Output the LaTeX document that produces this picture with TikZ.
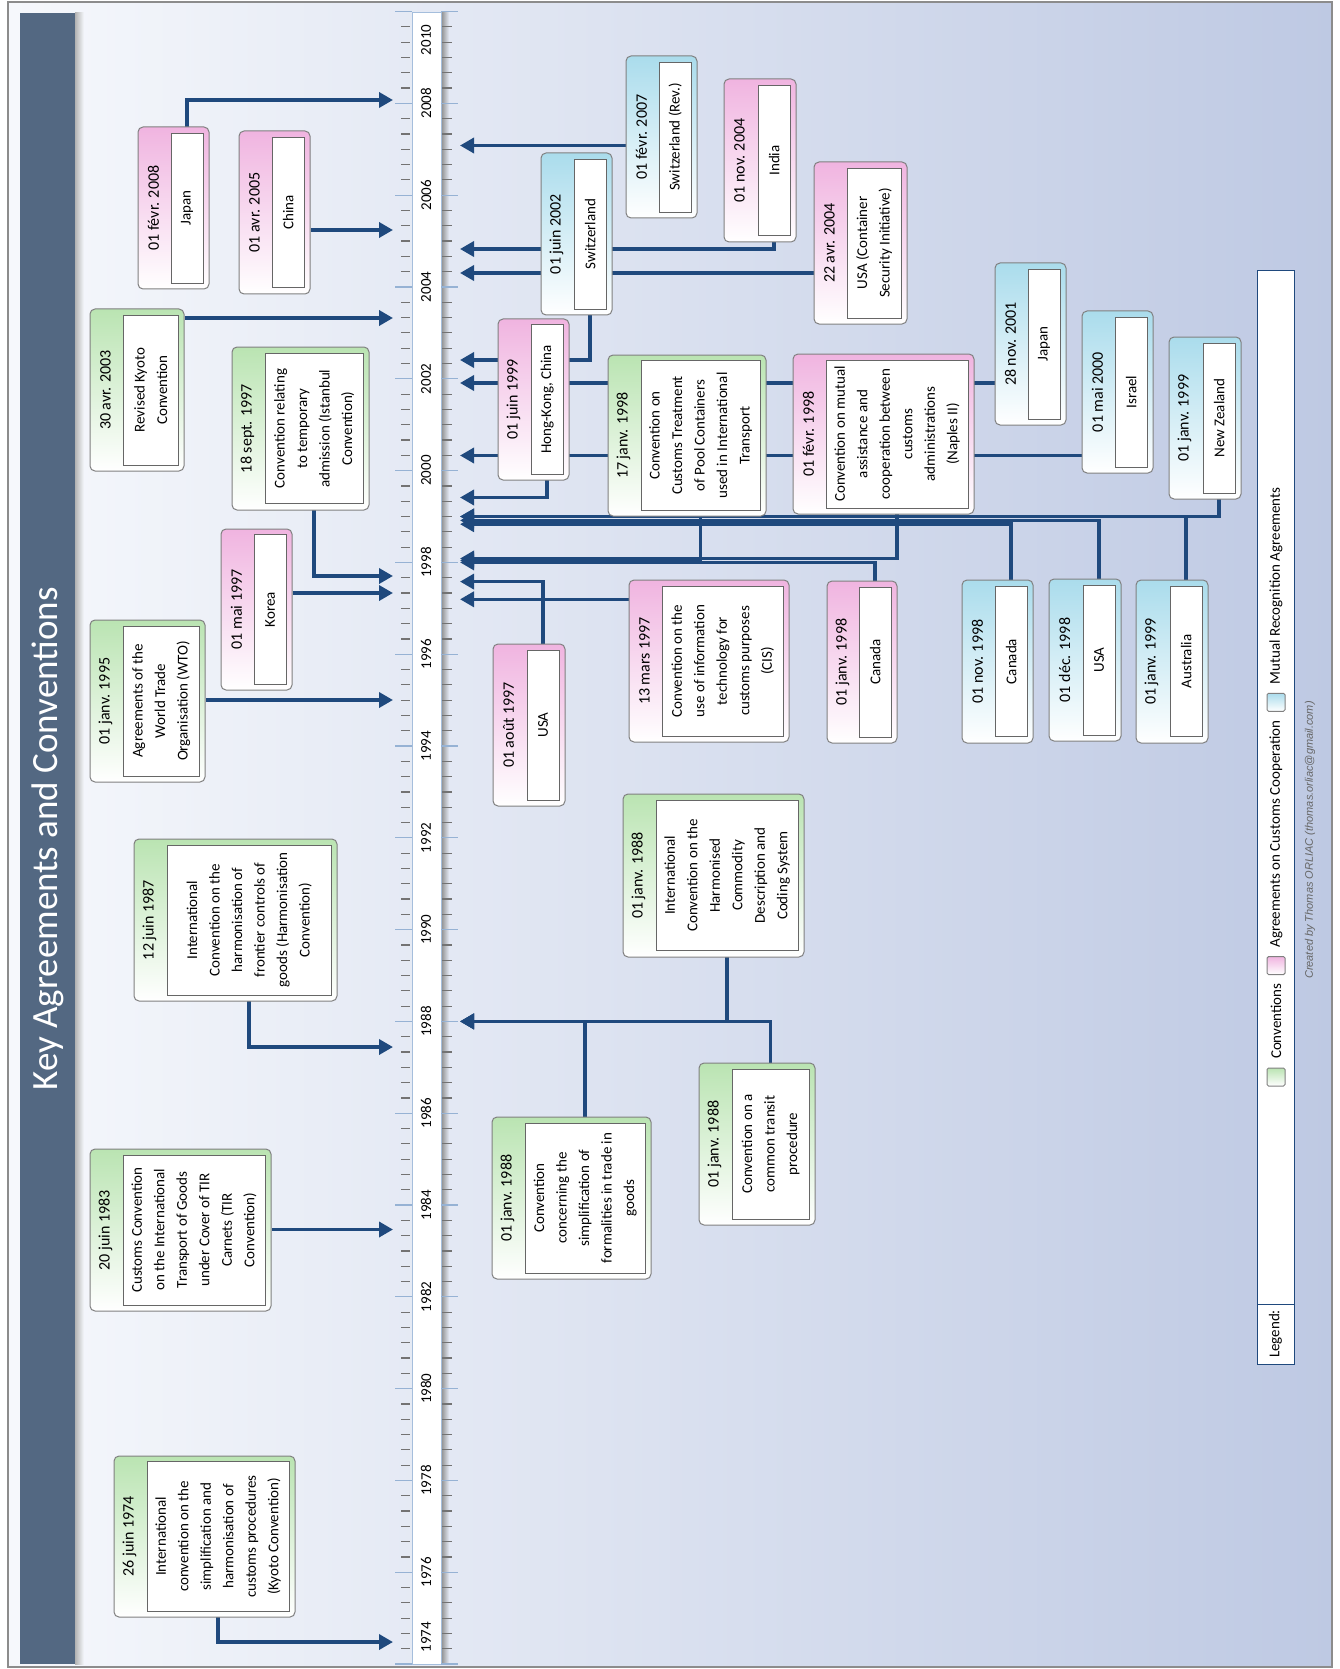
\documentclass[tikz,border=0pt]{standalone}
\usepackage{fontspec}
\setmainfont{Carlito}
\newfontfamily\creditfont{Liberation Sans}
\usetikzlibrary{arrows.meta,fit,backgrounds}

\definecolor{linkblue}{HTML}{1F497D}
\definecolor{titlebar}{HTML}{536882}
\definecolor{convgreen}{RGB}{186,228,178}
\definecolor{agrpink}{RGB}{240,180,224}
\definecolor{mrablue}{RGB}{170,220,236}
\definecolor{bgleft}{RGB}{246,248,252}
\definecolor{bgright}{RGB}{190,201,227}
\definecolor{bgaxis}{RGB}{228,233,244}
\definecolor{tickblue}{RGB}{150,178,212}
\definecolor{stripline}{RGB}{165,190,220}

\begin{document}
\begin{tikzpicture}[
        x=1pt, y=-1pt,
        font=\fontsize{15}{22.5}\selectfont,
        evbox/.style={
            draw=black!50,
            line width=1pt,
            rounded corners=5pt,
            inner sep=0pt,
            bottom color=white
        },
        conv/.style={evbox, top color=convgreen},
        agr/.style={evbox, top color=agrpink},
        mra/.style={evbox, top color=mrablue},
        inbox/.style={
            draw=black!60,
            fill=white,
            line width=0.8pt,
            rotate=90,
            anchor=south,
            align=center,
            inner sep=2pt,
            minimum width=150pt,
            minimum height=32pt
        },
        datetxt/.style={rotate=90, font=\fontsize{16}{20}\selectfont},
        link/.style={
            draw=linkblue,
            line width=3.5pt,
            -{Triangle[length=14pt,width=15pt]}
        },
        yrlbl/.style={rotate=90},
        legtxt/.style={rotate=90, anchor=west}
    ]

    \useasboundingbox (0,0) rectangle (1340,1669);

    % Fond et cadre
    \begin{pgfonlayer}{background}
        \shadedraw[left color=bgleft, right color=bgright, draw=black!45, line width=1.5pt]
            (8,2) rectangle (1332,1667);
    \end{pgfonlayer}

    % Bandeau du titre
    \shade[left color=black!30, right color=bgleft] (75,13) rectangle (84,1664);
    \fill[titlebar] (20,13) rectangle (75,1664);
    \node[rotate=90, text=white, font=\fontsize{37}{41}\selectfont] (title) at (48,839)
        {Key Agreements and Conventions};

    % Axe du temps
    \shade[left color=black!45, right color=bgaxis] (441,13) rectangle (449,1664);
    \node[draw=stripline, fill=white, line width=1pt, inner sep=0pt,
          fit={(412,13)(441,1664)}] (axis) {};
    \foreach \i in {0,...,108}
        \draw[black!55, line width=1.2pt] (401,1664-\i*15.3) -- (410,1664-\i*15.3)
                                          (442,1664-\i*15.3) -- (452,1664-\i*15.3);
    \foreach \i in {0,...,18}
        \draw[tickblue, line width=1.2pt] (395,1664-\i*91.8) -- (412,1664-\i*91.8)
                                          (441,1664-\i*91.8) -- (458,1664-\i*91.8);
    \foreach \yr in {1976,1978,...,2008}
        \node[yrlbl] (y\yr) at (426,{1664-(\yr-1974)*45.9}) {\yr};
    \node[yrlbl] (y1974) at (426,1637) {1974};
    \node[yrlbl] (y2010) at (426,40) {2010};

    % Points d'arrivée sur l'axe
    \coordinate (a08) at (393,100);
    \coordinate (a05) at (393,230);
    \coordinate (a03) at (393,318);
    \coordinate (a97s) at (393,576);
    \coordinate (a97m) at (393,593);
    \coordinate (a95) at (393,700);
    \coordinate (a87) at (393,1047);
    \coordinate (a83) at (393,1229.5);
    \coordinate (a74) at (393,1642);
    \coordinate (b07) at (460,145.5);
    \coordinate (b04n) at (460,249);
    \coordinate (b04a) at (460,273);
    \coordinate (b02) at (460,360);
    \coordinate (b01) at (460,383);
    \coordinate (b00) at (460,455.5);
    \coordinate (b99j) at (460,497.5);
    \coordinate (b99) at (460,516.5);
    \coordinate (b98d) at (460,520.4);
    \coordinate (b98n) at (460,524.2);
    \coordinate (b98f) at (460,558.5);
    \coordinate (b98j) at (460,560.4);
    \coordinate (b98) at (460,562.4);
    \coordinate (b97a) at (460,581.6);
    \coordinate (b97m) at (460,599.3);
    \coordinate (b88) at (460,1021.4);

    % Evenements a gauche de l'axe
    \node[agr, fit={(138,127)(209,289)}] (jp08) {};
    \node[inbox] (jp08i) at ([xshift=-6pt]jp08.east) {Japan};
    \node[datetxt] (jp08d) at ([xshift=16pt]jp08.west) {01 févr. 2008};

    \node[agr, fit={(239,131)(310,294)}] (cn05) {};
    \node[inbox] (cn05i) at ([xshift=-6pt]cn05.east) {China};
    \node[datetxt] (cn05d) at ([xshift=16pt]cn05.west) {01 avr. 2005};

    \node[conv, fit={(90,309)(184,471)}] (kyo03) {};
    \node[inbox, minimum height=55pt] (kyo03i) at ([xshift=-6pt]kyo03.east)
        {Revised Kyoto\\Convention};
    \node[datetxt] (kyo03d) at ([xshift=16pt]kyo03.west) {30 avr. 2003};

    \node[conv, fit={(232,347)(369,510)}] (ist97) {};
    \node[inbox, minimum height=98pt] (ist97i) at ([xshift=-6pt]ist97.east)
        {Convention relating\\to temporary\\admission (Istanbul\\Convention)};
    \node[datetxt] (ist97d) at ([xshift=16pt]ist97.west) {18 sept. 1997};

    \node[agr, fit={(221,529)(292,690)}] (kr97) {};
    \node[inbox] (kr97i) at ([xshift=-6pt]kr97.east) {Korea};
    \node[datetxt] (kr97d) at ([xshift=16pt]kr97.west) {01 mai 1997};

    \node[conv, fit={(90,620)(205,782)}] (wto95) {};
    \node[inbox, minimum height=76pt] (wto95i) at ([xshift=-6pt]wto95.east)
        {Agreements of the\\World Trade\\Organisation (WTO)};
    \node[datetxt] (wto95d) at ([xshift=16pt]wto95.west) {01 janv. 1995};

    \node[conv, fit={(134,839)(337,1001)}] (har87) {};
    \node[inbox, minimum height=164pt] (har87i) at ([xshift=-6pt]har87.east)
        {International\\Convention on the\\harmonisation of\\frontier controls of\\goods (Harmonisation\\Convention)};
    \node[datetxt] (har87d) at ([xshift=16pt]har87.west) {12 juin 1987};

    \node[conv, fit={(90,1149)(271,1311)}] (tir83) {};
    \node[inbox, minimum height=142pt] (tir83i) at ([xshift=-6pt]tir83.east)
        {Customs Convention\\on the International\\Transport of Goods\\under Cover of TIR\\Carnets (TIR\\Convention)};
    \node[datetxt] (tir83d) at ([xshift=16pt]tir83.west) {20 juin 1983};

    \node[conv, fit={(114,1456)(295,1617)}] (kyo74) {};
    \node[inbox, minimum height=142pt] (kyo74i) at ([xshift=-6pt]kyo74.east)
        {International\\convention on the\\simplification and\\harmonisation of\\customs procedures\\(Kyoto Convention)};
    \node[datetxt] (kyo74d) at ([xshift=16pt]kyo74.west) {26 juin 1974};

    % Evenements a droite de l'axe
    \node[mra, fit={(626,56)(697,218)}] (ch07) {};
    \node[inbox] (ch07i) at ([xshift=-6pt]ch07.east) {Switzerland (Rev.)};
    \node[datetxt] (ch07d) at ([xshift=16pt]ch07.west) {01 févr. 2007};

    \node[mra, fit={(541,153)(612,315)}] (ch02) {};
    \node[inbox] (ch02i) at ([xshift=-6pt]ch02.east) {Switzerland};
    \node[datetxt] (ch02d) at ([xshift=16pt]ch02.west) {01 juin 2002};

    \node[agr, fit={(724,79)(796,242)}] (in04) {};
    \node[inbox] (in04i) at ([xshift=-6pt]in04.east) {India};
    \node[datetxt] (in04d) at ([xshift=16pt]in04.west) {01 nov. 2004};

    \node[agr, fit={(814,162)(907,324)}] (us04) {};
    \node[inbox, minimum height=54pt] (us04i) at ([xshift=-6pt]us04.east)
        {USA (Container\\Security Initiative)};
    \node[datetxt] (us04d) at ([xshift=16pt]us04.west) {22 avr. 2004};

    \node[agr, fit={(498,319)(569,480)}] (hk99) {};
    \node[inbox] (hk99i) at ([xshift=-6pt]hk99.east) {Hong-Kong, China};
    \node[datetxt] (hk99d) at ([xshift=16pt]hk99.west) {01 juin 1999};

    \node[conv, fit={(608,355)(766,516)}] (pool98) {};
    \node[inbox, minimum height=119pt] (pool98i) at ([xshift=-6pt]pool98.east)
        {Convention on\\Customs Treatment\\of Pool Containers\\used in International\\Transport};
    \node[datetxt] (pool98d) at ([xshift=16pt]pool98.west) {17 janv. 1998};

    \node[agr, fit={(793,354)(974,514)}] (nap98) {};
    \node[inbox, minimum height=142pt, minimum width=148pt] (nap98i) at ([xshift=-6pt]nap98.east)
        {Convention on mutual\\assistance and\\cooperation between\\customs\\administrations\\(Naples II)};
    \node[datetxt] (nap98d) at ([xshift=16pt]nap98.west) {01 févr. 1998};

    \node[mra, fit={(995,263)(1066,425)}] (jp01) {};
    \node[inbox] (jp01i) at ([xshift=-6pt]jp01.east) {Japan};
    \node[datetxt] (jp01d) at ([xshift=16pt]jp01.west) {28 nov. 2001};

    \node[mra, fit={(1082,311)(1153,473)}] (il00) {};
    \node[inbox] (il00i) at ([xshift=-6pt]il00.east) {Israel};
    \node[datetxt] (il00d) at ([xshift=16pt]il00.west) {01 mai 2000};

    \node[mra, fit={(1169,337)(1241,499)}] (nz99) {};
    \node[inbox] (nz99i) at ([xshift=-6pt]nz99.east) {New Zealand};
    \node[datetxt] (nz99d) at ([xshift=16pt]nz99.west) {01 janv. 1999};

    \node[agr, fit={(493,644)(565,806)}] (us97) {};
    \node[inbox] (us97i) at ([xshift=-6pt]us97.east) {USA};
    \node[datetxt] (us97d) at ([xshift=16pt]us97.west) {01 août 1997};

    \node[agr, fit={(629,580)(789,742)}] (cis97) {};
    \node[inbox, minimum height=121pt] (cis97i) at ([xshift=-6pt]cis97.east)
        {Convention on the\\use of information\\technology for\\customs purposes\\(CIS)};
    \node[datetxt] (cis97d) at ([xshift=16pt]cis97.west) {13 mars 1997};

    \node[agr, fit={(827,581)(897,743)}] (ca98) {};
    \node[inbox] (ca98i) at ([xshift=-6pt]ca98.east) {Canada};
    \node[datetxt] (ca98d) at ([xshift=16pt]ca98.west) {01 janv. 1998};

    \node[conv, fit={(623,794)(804,957)}] (hs88) {};
    \node[inbox, minimum height=142pt] (hs88i) at ([xshift=-6pt]hs88.east)
        {International\\Convention on the\\Harmonised\\Commodity\\Description and\\Coding System};
    \node[datetxt] (hs88d) at ([xshift=16pt]hs88.west) {01 janv. 1988};

    \node[conv, fit={(699,1063)(815,1225)}] (tr88) {};
    \node[inbox, minimum height=77pt] (tr88i) at ([xshift=-6pt]tr88.east)
        {Convention on a\\common transit\\procedure};
    \node[datetxt] (tr88d) at ([xshift=16pt]tr88.west) {01 janv. 1988};

    \node[conv, fit={(492,1117)(651,1279)}] (fo88) {};
    \node[inbox, minimum height=120pt] (fo88i) at ([xshift=-6pt]fo88.east)
        {Convention\\concerning the\\simplification of\\formalities in trade in\\goods};
    \node[datetxt] (fo88d) at ([xshift=16pt]fo88.west) {01 janv. 1988};

    \node[mra, fit={(962,580)(1033,743)}] (ca98m) {};
    \node[inbox] (ca98mi) at ([xshift=-6pt]ca98m.east) {Canada};
    \node[datetxt] (ca98md) at ([xshift=16pt]ca98m.west) {01 nov. 1998};

    \node[mra, fit={(1049,579)(1121,741)}] (us98m) {};
    \node[inbox] (us98mi) at ([xshift=-6pt]us98m.east) {USA};
    \node[datetxt] (us98md) at ([xshift=16pt]us98m.west) {01 déc. 1998};

    \node[mra, fit={(1136,580)(1208,743)}] (au99) {};
    \node[inbox] (au99i) at ([xshift=-6pt]au99.east) {Australia};
    \node[datetxt] (au99d) at ([xshift=16pt]au99.west) {01 janv. 1999};

    % Legende
    \node[draw=linkblue, fill=white, line width=1pt, inner sep=0pt,
          fit={(1257,271)(1294,1364)}] (legend) {};
    \node[draw=linkblue, line width=1pt, inner sep=0pt,
          fit={(1257,1304)(1294,1364)}] (legcell) {};
    \node[rotate=90] (legtitle) at (legcell) {Legend:};
    \node[conv, rounded corners=1.5pt, minimum size=18pt] (swconv) at (1276,1077) {};
    \node[legtxt] (lconv) at ([yshift=5pt]swconv.north) {Conventions};
    \node[agr, rounded corners=1.5pt, minimum size=18pt, anchor=south] (swagr)
        at ([yshift=5pt]lconv.east) {};
    \node[legtxt] (lagr) at ([yshift=5pt]swagr.north) {Agreements on Customs Cooperation};
    \node[mra, rounded corners=1.5pt, minimum size=18pt, anchor=south] (swmra)
        at ([yshift=5pt]lagr.east) {};
    \node[legtxt] (lmra) at ([yshift=5pt]swmra.north) {Mutual Recognition Agreements};
    \node[rotate=90, text=black!60, font=\creditfont\itshape\fontsize{11}{13}\selectfont]
        (credit) at (1310,840) {Created by Thomas ORLIAC (thomas.orliac@gmail.com)};

    % Liaisons vers l'axe
    \begin{pgfonlayer}{background}
        \draw[link] (jp08i.center) |- (a08);
        \draw[link] (cn05.east |- a05) -- (a05);
        \draw[link] (kyo03.east |- a03) -- (a03);
        \draw[link] (ist97i.center) |- (a97s);
        \draw[link] (kr97.east |- a97m) -- (a97m);
        \draw[link] (wto95.east |- a95) -- (a95);
        \draw[link] (har87i.center) |- (a87);
        \draw[link] (tir83.east |- a83) -- (a83);
        \draw[link] (kyo74i.center) |- (a74);

        \draw[link] (ch07.west |- b07) -- (b07);
        \draw[link] (ch02i.center) |- (b02);
        \draw[link] (in04i.center) |- (b04n);
        \draw[link] (us04.west |- b04a) -- (b04a);
        \draw[link] (hk99i.center) |- (b99j);
        \draw[link] (jp01.west |- b01) -- (b01);
        \draw[link] (il00.west |- b00) -- (b00);
        \draw[link] (pool98i.center) |- (b98j);
        \draw[link] (nap98i.center) |- (b98f);
        \draw[link] (nz99i.center) |- (b99);
        \draw[link] (au99i.center) |- (b99);
        \draw[link] (us98mi.center) |- (b98d);
        \draw[link] (ca98mi.center) |- (b98n);
        \draw[link] (ca98i.center) |- (b98);
        \draw[link] (us97i.center) |- (b97a);
        \draw[link] (cis97.west |- b97m) -- (b97m);
        \draw[link] (hs88i.center) |- (b88);
        \draw[link] (tr88i.center) |- (b88);
        \draw[link] (fo88i.center) |- (b88);
    \end{pgfonlayer}

\end{tikzpicture}
\end{document}
